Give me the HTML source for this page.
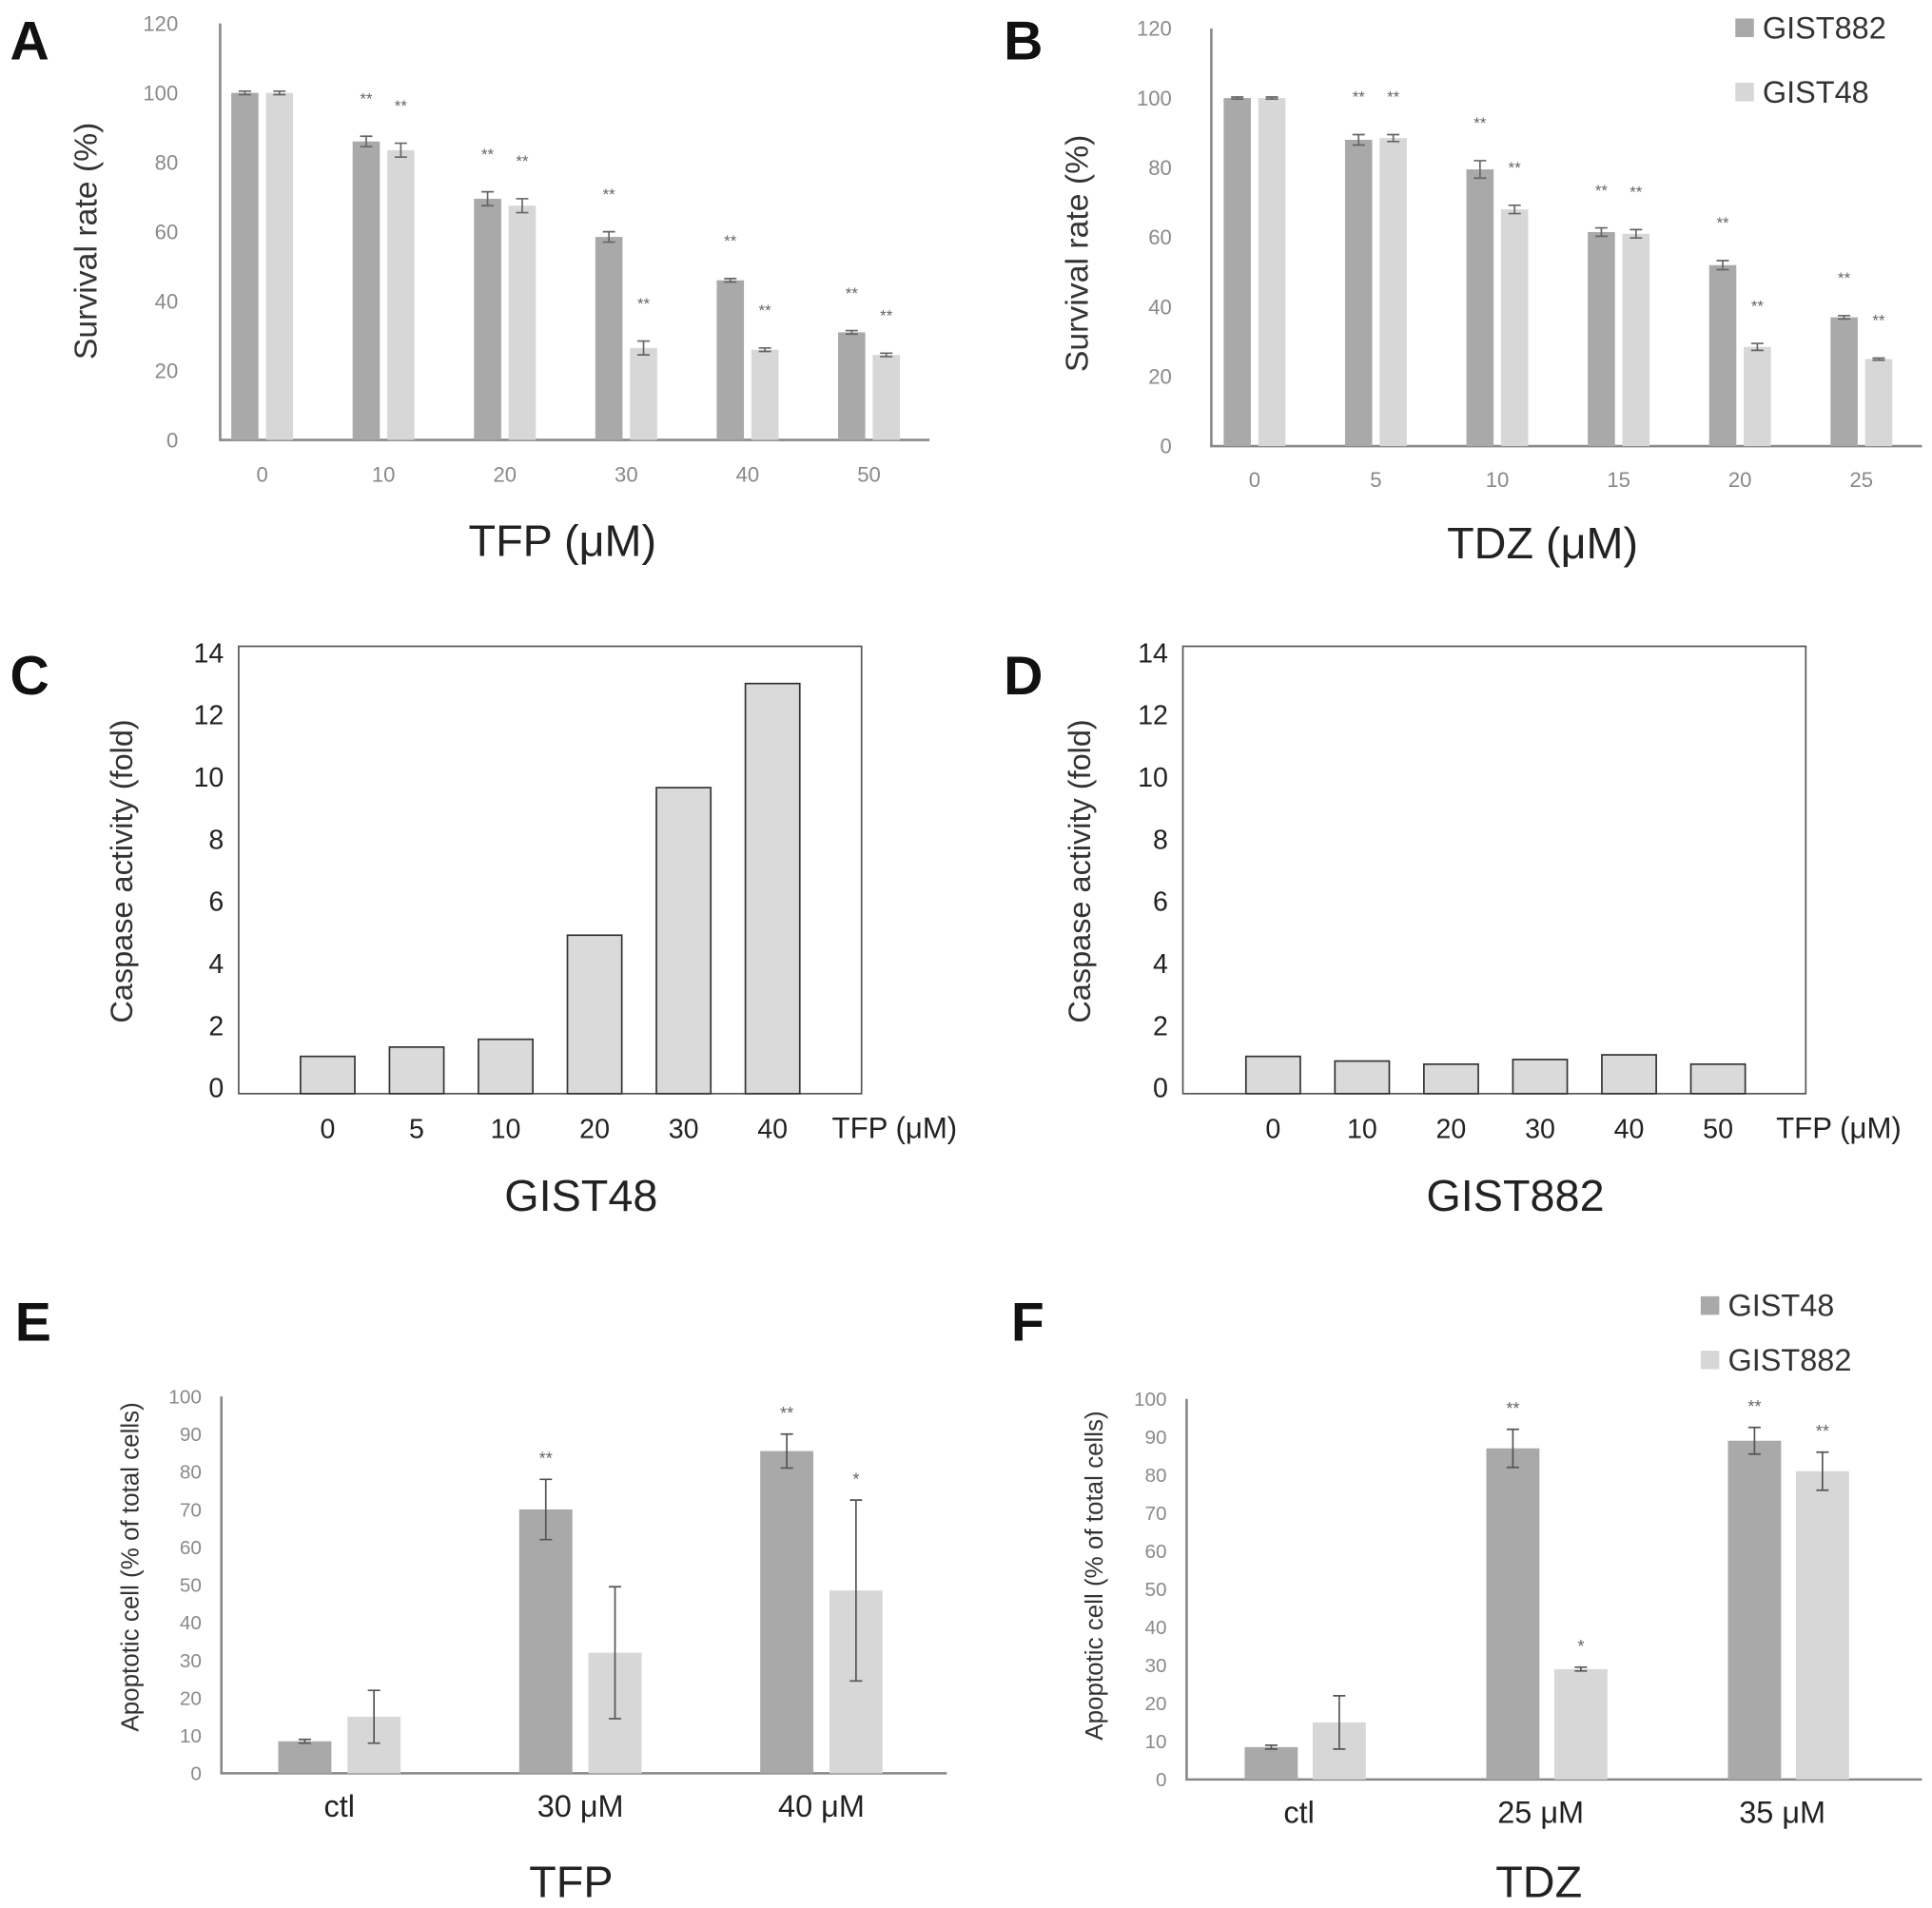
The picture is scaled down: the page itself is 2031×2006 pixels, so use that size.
<!DOCTYPE html>
<html><head><meta charset="utf-8"><style>
html,body{margin:0;padding:0;background:#fff}
svg{display:block}
text{font-family:"Liberation Sans",sans-serif}
</style></head><body>
<svg id="fig" width="2031" height="2006" viewBox="0 0 1563 1544" xmlns="http://www.w3.org/2000/svg">
<rect width="1563" height="1544" fill="#fff"/>
<g font-weight="bold" font-size="44" fill="#111">
<text x="8" y="48">A</text>
<text x="812" y="48">B</text>
<text x="8" y="562">C</text>
<text x="812" y="562">D</text>
<text x="12" y="1085">E</text>
<text x="818" y="1085">F</text>
</g>
</svg>
<script>
// Panel A
const aCats=["0","10","20","30","40","50"];
const aDark=[100,86,69.5,58.5,46,31];
const aLight=[100,83.5,67.5,26.5,26,24.5];
const aDarkErr=[0.5,1.5,2,1.5,0.5,0.5];
const aLightErr=[0.5,2,2,2,0.5,0.5];
const aTicks=[0,20,40,60,80,100,120];
// Panel B
const bCats=["0","5","10","15","20","25"];
const bDark=[100,88,79.5,61.5,52,37];
const bLight=[100,88.5,68,61,28.5,25];
const bDarkErr=[0.3,1.5,2.5,1.2,1.3,0.5];
const bLightErr=[0.3,1,1.2,1.2,1,0.3];
// Panel C/D
const cCats=["0","5","10","20","30","40"];
const cVals=[1,1.3,1.55,4.9,9.65,13];
const dCats=["0","10","20","30","40","50"];
const dVals=[1,0.85,0.75,0.9,1.05,0.75];
const cTicks=[0,2,4,6,8,10,12,14];
// Panel E
const eCats=["ctl","30 μM","40 μM"];
const eDark=[8.5,70,85.5];
const eLight=[15,32,48.5];
const eDarkErr=[0.5,8,4.5];
const eLightErr=[7,17.5,24];
const eDarkStars=["","**","**"];
const eLightStars=["","","*"];
// Panel F
const fCats=["ctl","25 μM","35 μM"];
const fDark=[8.5,87,89];
const fLight=[15,29,81];
const fDarkErr=[0.5,5,3.5];
const fLightErr=[7,0.5,5];
const fDarkStars=["","**","**"];
const fLightStars=["","*","**"];
const eTicks=[0,10,20,30,40,50,60,70,80,90,100];

const svg=document.getElementById('fig');
const NS="http://www.w3.org/2000/svg";
function mk(tag,attrs,parent){const e=document.createElementNS(NS,tag);for(const k in attrs)e.setAttribute(k,attrs[k]);(parent||svg).appendChild(e);return e;}
function txt(s,attrs,parent){const e=mk('text',attrs,parent);e.textContent=s;return e;}
const DARK="#a9a9a9",LIGHT="#d7d7d7";

function errBar(g,x,y1,y2,cap,color){
  const l=mk('path',{d:`M${x-cap},${y1}H${x+cap}M${x},${y1}V${y2}M${x-cap},${y2}H${x+cap}`,stroke:color,'stroke-width':1.3,fill:'none'},g);
  
  
}

function groupedChart(o){
  const g=mk('g',{});
  
  
  const y=v=>o.y0-(v-0)/o.ymax*(o.y0-o.ytop);
  const xc=i=>o.x0+o.step*i;
  const ax=mk('path',{d:`M${o.ax},${o.ytop}V${o.y0}H${o.axEnd}`,stroke:'#888','stroke-width':2,fill:'none'},g);
  
  
  o.ticks.forEach(t=>{
    const e=txt(String(t),{x:o.ax-o.tickOff,y:y(t)+o.tickFs*0.35,'text-anchor':'end','font-size':o.tickFs,fill:'#8a8a8a'},g);
    
    
  });
  o.cats.forEach((c,i)=>{
    const cx=xc(i);
    [[o.dark,o.darkErr,DARK,-1,o.darkStars],[o.light,o.lightErr,LIGHT,1,o.lightStars]].forEach(([vals,errs,col,side,stars])=>{
      const bx=side<0?cx-o.gap/2-o.bw:cx+o.gap/2;
      const r=mk('rect',{x:bx,y:y(vals[i]),width:o.bw,height:o.y0-y(vals[i]),fill:col},g);
      
      
      const mx=bx+o.bw/2;
      errBar(g,mx,y(vals[i]+errs[i]),y(vals[i]-errs[i]),o.cap,o.errColor);
      const s=stars?stars[i]:(i>0?"**":"");
      if(s){const st=txt(s,{x:mx,y:y(vals[i]+errs[i])-o.starOff,'text-anchor':'middle','font-size':o.starFs,fill:'#666'},g);
        
        }
    });
    const lb=txt(c,{x:cx+o.labDx,y:o.labY,'text-anchor':'middle','font-size':o.labFs,fill:o.labColor,'font-weight':o.labBold?'bold':'normal'},g);
    
    
  });
  const yl=txt(o.ylabel,{x:0,y:0,transform:`translate(${o.ylx},${o.yly}) rotate(-90)`,'text-anchor':'middle','font-size':o.ylFs,fill:'#333'},g);
  
  
  const xt=txt(o.xtitle,{x:o.xtx,y:o.xty,'text-anchor':'middle','font-size':36,fill:'#222'},g);
  
  
  if(o.legend){o.legend.forEach((L,k)=>{
    const r=mk('rect',{x:o.legX,y:o.legY+k*o.legStep-8,width:15,height:15,fill:k?LIGHT:DARK},g);
    
    
    const t=txt(L,{x:o.legX+22,y:o.legY+k*o.legStep+8,'font-size':25,fill:'#333'},g);
    
    
  });}
}

groupedChart({name:'chart-a',cats:aCats,dark:aDark,light:aLight,darkErr:aDarkErr,lightErr:aLightErr,ticks:aTicks,
  ax:178,axEnd:752,ytop:19,y0:356,ymax:120,x0:212,step:98.2,bw:22,gap:6,cap:5,errColor:'#666',starOff:26,starFs:13,
  tickOff:34,tickFs:17,labY:390,labFs:17,labColor:'#888',labDx:0,ylabel:'Survival rate (%)',ylx:78,yly:195,ylFs:26,
  xtitle:'TFP (μM)',xtx:455,xty:450});
groupedChart({name:'chart-b',cats:bCats,dark:bDark,light:bLight,darkErr:bDarkErr,lightErr:bLightErr,ticks:aTicks,
  ax:980,axEnd:1555,ytop:23,y0:361,ymax:120,x0:1015,step:98.2,bw:22,gap:6,cap:5,errColor:'#666',starOff:26,starFs:13,
  tickOff:32,tickFs:17,labY:394,labFs:17,labColor:'#888',labDx:0,ylabel:'Survival rate (%)',ylx:880,yly:205,ylFs:26,
  xtitle:'TDZ (μM)',xtx:1248,xty:452,legend:['GIST882','GIST48'],legX:1404,legY:23,legStep:52});

function caspase(name,cats,vals,bx,cx0,titleTxt,tx,ylx){
  const g=mk('g',{});
  
  
  const top=523,bot=885,y0=880,ytop=528;
  const y=v=>y0-v/14*(y0-ytop);
  const fr=mk('rect',{x:bx,y:top,width:504,height:bot-top,fill:'none',stroke:'#555','stroke-width':1.3},g);
  
  
  cTicks.forEach(t=>{const e=txt(String(t),{x:bx-12,y:y(t)+8,'text-anchor':'end','font-size':22,fill:'#222'},g);
    
    });
  cats.forEach((c,i)=>{const cx=cx0+72*i;
    const r=mk('rect',{x:cx-22,y:y(vals[i]),width:44,height:y0-y(vals[i])+5,fill:'#dadada',stroke:'#333','stroke-width':1.3},g);
    
    
    const l=txt(c,{x:cx,y:921,'text-anchor':'middle','font-size':22,fill:'#222'},g);
    
    });
  const u=txt('TFP (μM)',{x:bx+480,y:921,'font-size':24,fill:'#222'},g);
  
  
  const t=txt(titleTxt,{x:tx,y:980,'text-anchor':'middle','font-size':36,fill:'#222'},g);
  
  
  const yl=txt('Caspase activity (fold)',{x:0,y:0,transform:`translate(${ylx},705) rotate(-90)`,'text-anchor':'middle','font-size':25,fill:'#333'},g);
  
  
}
caspase('chart-c',cCats,cVals,193,265,'GIST48',470,107);
caspase('chart-d',dCats,dVals,957,1030,'GIST882',1226,882);

groupedChart({name:'chart-e',cats:eCats,dark:eDark,light:eLight,darkErr:eDarkErr,lightErr:eLightErr,ticks:eTicks,
  darkStars:eDarkStars,lightStars:eLightStars,
  ax:179,axEnd:766,ytop:1130,y0:1435,ymax:100,x0:274.5,step:195,bw:43,gap:13,cap:5,errColor:'#555',starOff:12,starFs:14,
  tickOff:16,tickFs:16,labY:1470,labFs:25,labColor:'#222',labBold:false,labDx:0,ylabel:'Apoptotic cell (% of total cells)',ylx:112,yly:1268,ylFs:20,
  xtitle:'TFP',xtx:462,xty:1535});
groupedChart({name:'chart-f',cats:fCats,dark:fDark,light:fLight,darkErr:fDarkErr,lightErr:fLightErr,ticks:eTicks,
  darkStars:fDarkStars,lightStars:fLightStars,
  ax:960,axEnd:1555,ytop:1132,y0:1440,ymax:100,x0:1056,step:195.5,bw:43,gap:12,cap:5,errColor:'#555',starOff:12,starFs:14,
  tickOff:16,tickFs:16,labY:1475,labFs:25,labColor:'#222',labDx:-5,ylabel:'Apoptotic cell (% of total cells)',ylx:892,yly:1275,ylFs:20,
  xtitle:'TDZ',xtx:1245,xty:1535,legend:['GIST48','GIST882'],legX:1376,legY:1057,legStep:44});
</script>
</body></html>
